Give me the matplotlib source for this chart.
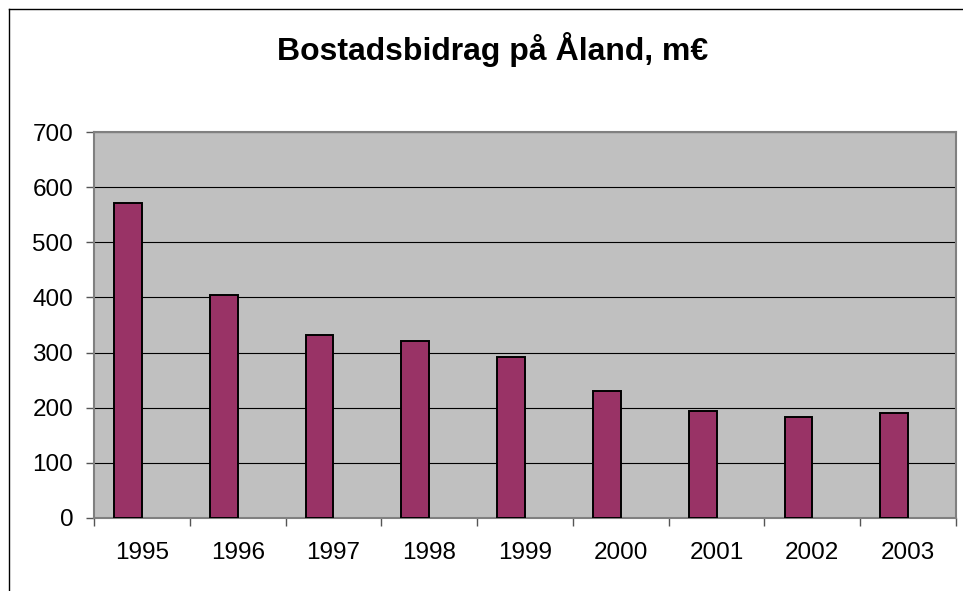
import matplotlib
import matplotlib.pyplot as plt
import numpy as np
from matplotlib.lines import Line2D

matplotlib.use("Agg")

# Data
years = ["1995", "1996", "1997", "1998", "1999", "2000", "2001", "2002", "2003"]
bidrag = [571, 404, 332, 321, 292, 230, 194, 183, 190]
y_ticks = [0, 100, 200, 300, 400, 500, 600, 700]

plt.rcParams["font.family"] = ["Liberation Sans", "DejaVu Sans"]

W, H = 963, 591
fig = plt.figure(figsize=(W / 100, H / 100), dpi=100)
fig.patch.set_facecolor("white")

# Chart border (left and top edge visible, rest cut off)
fig.add_artist(Line2D([8.5 / W, 8.5 / W], [0, 1 - 8.5 / H], color="black", lw=1.0))
fig.add_artist(Line2D([8.5 / W, 1], [1 - 8.5 / H, 1 - 8.5 / H], color="black", lw=1.0))

left, right, top, bottom = 94, 956, 132, 518
ax = fig.add_axes([left / W, (H - bottom) / H, (right - left) / W, (bottom - top) / H])
ax.set_facecolor("#c0c0c0")

x = np.arange(len(years))
bar_w = 0.29
# bar sits left of the category centre (Excel two-series slot)
ax.bar(x - bar_w / 2, bidrag, width=bar_w, color="#993366",
       edgecolor="black", linewidth=1.4, zorder=3)

ax.set_xlim(-0.5, len(years) - 0.5)
ax.set_ylim(0, 700)
ax.set_yticks(y_ticks)
ax.set_yticklabels([str(v) for v in y_ticks])
ax.yaxis.grid(True, color="black", linewidth=0.8, zorder=1)
ax.set_axisbelow(True)

ax.set_xticks(x)
ax.set_xticklabels(years)
ax.set_xticks(np.arange(len(years) + 1) - 0.5, minor=True)
ax.tick_params(axis="x", which="major", length=0, pad=17, labelsize=17.5)
ax.tick_params(axis="x", which="minor", length=6, width=1.0, color="#555555")
ax.tick_params(axis="y", length=6, width=1.0, color="#555555", pad=9, labelsize=17.5)

for side in ["left", "right", "top", "bottom"]:
    ax.spines[side].set_color("#808080")
    ax.spines[side].set_linewidth(1.5)

fig.text(493 / W, 1 - 50 / H, "Bostadsbidrag på Åland, m€", ha="center", va="center",
         fontsize=23, fontweight="bold")

fig.savefig("out.png", dpi=100)
